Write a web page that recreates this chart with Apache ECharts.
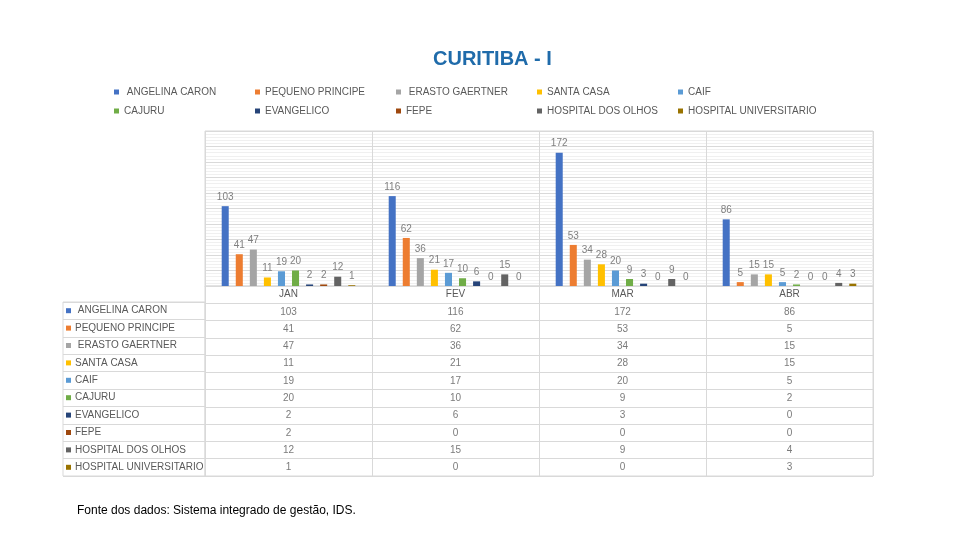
<!DOCTYPE html>
<html>
<head>
<meta charset="utf-8">
<script src="https://cdn.jsdelivr.net/npm/echarts@6/dist/echarts.min.js"></script>
<style>html,body{margin:0;padding:0;background:#fff}#c{width:960px;height:540px}</style>
</head>
<body>
<div id="c"></div>
<script>
const months = ['JAN', 'FEV', 'MAR', 'ABR'];
const names = [' ANGELINA CARON', 'PEQUENO PRINCIPE', ' ERASTO GAERTNER', 'SANTA CASA', 'CAIF', 'CAJURU', 'EVANGELICO', 'FEPE', 'HOSPITAL DOS OLHOS', 'HOSPITAL UNIVERSITARIO'];
const angelinaCaron = [103, 116, 172, 86];
const pequenoPrincipe = [41, 62, 53, 5];
const erastoGaertner = [47, 36, 34, 15];
const santaCasa = [11, 21, 28, 15];
const caif = [19, 17, 20, 5];
const cajuru = [20, 10, 9, 2];
const evangelico = [2, 6, 3, 0];
const fepe = [2, 0, 0, 0];
const hospitalDosOlhos = [12, 15, 9, 4];
const hospitalUniversitario = [1, 0, 0, 3];
const yTicks = { min: 0, max: 200, interval: 20 };
const colors = ['#4472C4', '#ED7D31', '#A5A5A5', '#FFC000', '#5B9BD5', '#70AD47', '#264478', '#9E480E', '#636363', '#997300'];
const seriesValues = [angelinaCaron, pequenoPrincipe, erastoGaertner, santaCasa, caif, cajuru, evangelico, fepe, hospitalDosOlhos, hospitalUniversitario];

const FONT = "'Liberation Sans', sans-serif";
const TXT = '#595959';
const LINE = '#d9d9d9';

const barSeries = names.map((n, i) => ({
  name: n,
  type: 'bar',
  xAxisIndex: 0, yAxisIndex: 0,
  data: seriesValues[i],
  itemStyle: { color: colors[i] },
  barGap: '100%',
  barCategoryGap: '20%',
  label: { show: true, position: 'top', distance: 4, color: '#7f7f7f', fontSize: 10, fontFamily: FONT }
}));

const tableData = [];
seriesValues.forEach((arr, r) => arr.forEach((v, c) => tableData.push([months[c], r + 1, v])));

const rich = { t: { color: TXT, fontSize: 10, fontFamily: FONT, padding: [0, 0, 0, 4] } };
colors.forEach((c, i) => { rich['s' + i] = { width: 5, height: 5, backgroundColor: c }; });

const option = {
  animation: false,
  title: {
    text: 'CURITIBA - I', left: 428, top: 44,
    textStyle: { color: '#1F6BAA', fontSize: 20, fontWeight: 'bold', fontFamily: FONT }
  },
  legend: {
    left: 109, top: 82, width: 730,
    itemWidth: 5, itemHeight: 5, itemGap: 9, icon: 'rect',
    formatter: '{a|{name}}',
    textStyle: { color: TXT, fontSize: 10, fontFamily: FONT, lineHeight: 10,
      rich: { a: { width: 122, fontSize: 10, color: TXT, fontFamily: FONT, lineHeight: 10 } } },
    data: names
  },
  grid: [
    { left: 205, right: 87, top: 131, bottom: 254, show: true, borderColor: LINE, borderWidth: 1 },
    { left: 205, right: 87, top: 286, bottom: 64, show: true, borderColor: LINE, borderWidth: 1 },
    { left: 63, width: 142, top: 302, bottom: 64, show: true, borderColor: LINE, borderWidth: 1 }
  ],
  xAxis: [
    { type: 'category', gridIndex: 0, data: months,
      axisLine: { lineStyle: { color: LINE } }, axisTick: { show: false },
      axisLabel: { color: TXT, fontSize: 10, fontFamily: FONT, margin: 3 },
      splitLine: { show: true, lineStyle: { color: LINE } } },
    { type: 'category', gridIndex: 1, data: months, axisLine: { show: false }, axisTick: { show: false },
      axisLabel: { show: false }, splitLine: { show: true, lineStyle: { color: LINE } } },
    { type: 'value', gridIndex: 2, show: false }
  ],
  yAxis: [
    { type: 'value', gridIndex: 0, min: yTicks.min, max: yTicks.max, interval: yTicks.interval,
      axisLabel: { show: false }, axisLine: { show: false }, axisTick: { show: false },
      splitLine: { show: true, lineStyle: { color: '#d9d9d9' } },
      minorTick: { show: false, splitNumber: 5 },
      minorSplitLine: { show: true, lineStyle: { color: '#f0f0f0' } } },
    { type: 'category', gridIndex: 1, inverse: true, data: [''].concat(names),
      axisLine: { show: false }, axisTick: { show: false }, axisLabel: { show: false },
      splitLine: { show: true, lineStyle: { color: LINE } } },
    { type: 'category', gridIndex: 2, inverse: true, data: names,
      axisLine: { show: false }, axisTick: { show: false },
      axisLabel: { inside: true, margin: 3, formatter: (v, i) => '{s' + i + '|}{t|' + v + '}', rich: rich },
      splitLine: { show: true, lineStyle: { color: LINE } } }
  ],
  series: barSeries.concat([{
    type: 'scatter', xAxisIndex: 1, yAxisIndex: 1, data: tableData,
    symbolSize: 1, itemStyle: { color: 'rgba(0,0,0,0)' }, silent: true,
    label: { show: true, position: 'inside', color: TXT, fontSize: 10, fontFamily: FONT, formatter: p => String(p.value[2]) }
  }]),
  graphic: [{
    type: 'text', left: 77, top: 505,
    style: { text: 'Fonte dos dados: Sistema integrado de gestão, IDS.', fill: '#000', fontSize: 12, fontFamily: FONT }
  }]
};
echarts.init(document.getElementById('c')).setOption(option);
</script>
</body>
</html>
